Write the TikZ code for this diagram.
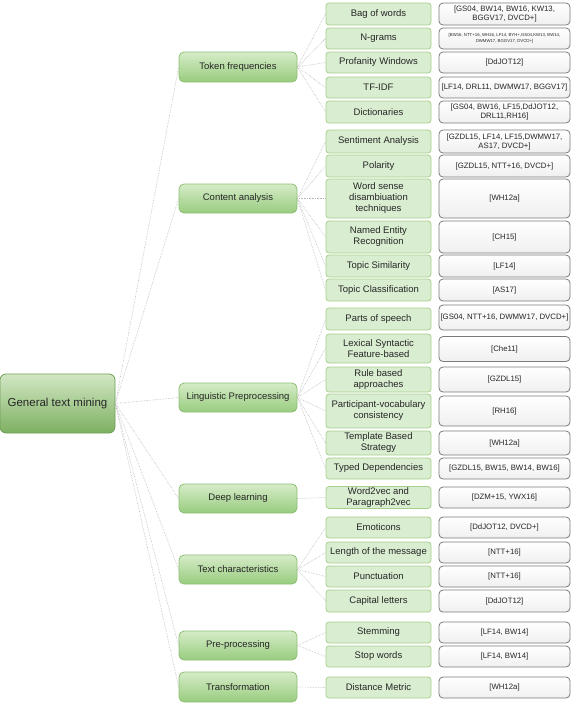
\documentclass[tikz,border=0pt]{standalone}
\usepackage{fontspec}
\setmainfont{Liberation Sans}
\usepackage{tikz}
\usetikzlibrary{positioning,calc}
\usepackage{xcolor}
\definecolor{rootTop}{HTML}{D2E7C4}
\definecolor{rootBot}{HTML}{7DB062}
\definecolor{rootLine}{HTML}{6E9E56}
\definecolor{catTop}{HTML}{D6ECC8}
\definecolor{catBot}{HTML}{98CC7E}
\definecolor{catLine}{HTML}{8DBE74}
\definecolor{subFill}{HTML}{D9EDD1}
\definecolor{subLine}{HTML}{A6D08C}
\definecolor{refLine}{HTML}{7A7A7A}
\definecolor{linkGray}{HTML}{B8B8B8}

\begin{document}
\begin{tikzpicture}[x=1pt,y=-1pt,
  every node/.style={font=\fontsize{9.5}{11}\selectfont, text=black!85, align=center, inner sep=1pt},
  root/.style={draw=rootLine, line width=0.8, rounded corners=6, top color=rootTop, bottom color=rootBot,
    minimum width=115, minimum height=59, font=\fontsize{11.5}{13}\selectfont},
  cat/.style={draw=catLine, line width=0.8, rounded corners=5, top color=catTop, bottom color=catBot,
    minimum width=118, minimum height=29},
  sub/.style={draw=subLine, line width=0.8, rounded corners=3, fill=subFill, minimum width=105},
  ref/.style={draw=refLine, line width=0.8, rounded corners=4, top color=white, bottom color=black!6,
    minimum width=131, font=\fontsize{7.8}{9}\selectfont},
  link/.style={draw=linkGray, line width=0.6, densely dotted}]
\useasboundingbox (0,0) rectangle (576,705);

% root
\node[root] (gtm) at (57.5,403.5) {General text mining};

% categories
\node[cat, minimum height=30] (tok) at (238,67) {Token frequencies};
\node[cat] (cont) at (238,198.5) {Content analysis};
\node[cat] (ling) at (238,397.5) {Linguistic Preprocessing};
\node[cat] (deep) at (238,498.5) {Deep learning};
\node[cat] (textc) at (238,569.5) {Text characteristics};
\node[cat] (pre) at (238,645.5) {Pre-processing};
\node[cat, minimum height=30] (trans) at (238,687) {Transformation};

% token frequencies
\node[sub, minimum height=22] (bow) at (378.5,14) {Bag of words};
\node[ref, minimum height=22] (bowR) at (504.5,14) {[GS04, BW14, BW16, KW13,\\BGGV17, DVCD+]};
\node[sub, minimum height=21] (ngr) at (378.5,38.5) {N-grams};
\node[ref, minimum height=21, font=\fontsize{4.3}{6.5}\selectfont] (ngrR) at (504.5,38.5) {[BW16, NTT+16, WH16, LF14, BYH+,GS04,KW13, BW14,\\DWMW17, BGGV17, DVCD+]};
\node[sub, minimum height=21] (prof) at (378.5,62.5) {Profanity Windows};
\node[ref, minimum height=21] (profR) at (504.5,62.5) {[DdJOT12]};
\node[sub, minimum height=21] (tfidf) at (378.5,87.5) {TF-IDF};
\node[ref, minimum height=21] (tfidfR) at (504.5,87.5) {[LF14, DRL11, DWMW17, BGGV17]};
\node[sub, minimum height=22] (dict) at (378.5,112) {Dictionaries};
\node[ref, minimum height=22] (dictR) at (504.5,112) {[GS04, BW16, LF15,DdJOT12,\\DRL11,RH16]};

% content analysis
\node[sub, minimum height=23] (sent) at (378.5,141.5) {Sentiment Analysis};
\node[ref, minimum height=23] (sentR) at (504.5,141.5) {[GZDL15, LF14, LF15,DWMW17,\\AS17, DVCD+]};
\node[sub, minimum height=22] (pol) at (378.5,166) {Polarity};
\node[ref, minimum height=22] (polR) at (504.5,166) {[GZDL15, NTT+16, DVCD+]};
\node[sub, minimum height=39] (wsd) at (378.5,198.5) {Word sense\\disambiuation\\techniques};
\node[ref, minimum height=39] (wsdR) at (504.5,198.5) {[WH12a]};
\node[sub, minimum height=32] (ner) at (378.5,237) {Named Entity\\Recognition};
\node[ref, minimum height=32] (nerR) at (504.5,237) {[CH15]};
\node[sub, minimum height=22] (tsim) at (378.5,266) {Topic Similarity};
\node[ref, minimum height=22] (tsimR) at (504.5,266) {[LF14]};
\node[sub, minimum height=22] (tcls) at (378.5,290) {Topic Classification};
\node[ref, minimum height=22] (tclsR) at (504.5,290) {[AS17]};

% linguistic preprocessing
\node[sub, minimum height=22] (pos) at (378.5,319) {Parts of speech};
\node[ref, minimum height=25] (posR) at (504.5,317.5) {[GS04, NTT+16, DWMW17, DVCD+]};
\node[sub, minimum height=29] (lex) at (378.5,348.5) {Lexical Syntactic\\Feature-based};
\node[ref, minimum height=25] (lexR) at (504.5,349) {[Che11]};
\node[sub, minimum height=25] (rule) at (378.5,379.5) {Rule based\\approaches};
\node[ref, minimum height=25] (ruleR) at (504.5,379.5) {[GZDL15]};
\node[sub, minimum height=34] (part) at (378.5,411) {Participant-vocabulary\\consistency};
\node[ref, minimum height=30] (partR) at (504.5,411) {[RH16]};
\node[sub, minimum height=24] (tmpl) at (378.5,443) {Template Based\\Strategy};
\node[ref, minimum height=24] (tmplR) at (504.5,443) {[WH12a]};
\node[sub, minimum height=21] (typed) at (378.5,468.5) {Typed Dependencies};
\node[ref, minimum height=21] (typedR) at (504.5,468.5) {[GZDL15, BW15, BW14, BW16]};

% deep learning
\node[sub, minimum height=21] (w2v) at (378.5,497.5) {Word2vec and\\Paragraph2vec};
\node[ref, minimum height=21] (w2vR) at (504.5,497.5) {[DZM+15, YWX16]};

% text characteristics
\node[sub, minimum height=21] (emo) at (378.5,527.5) {Emoticons};
\node[ref, minimum height=21] (emoR) at (504.5,527.5) {[DdJOT12, DVCD+]};
\node[sub, minimum height=21] (len) at (378.5,552.5) {Length of the message};
\node[ref, minimum height=21] (lenR) at (504.5,552.5) {[NTT+16]};
\node[sub, minimum height=21] (punc) at (378.5,576.5) {Punctuation};
\node[ref, minimum height=21] (puncR) at (504.5,576.5) {[NTT+16]};
\node[sub, minimum height=22] (cap) at (378.5,601) {Capital letters};
\node[ref, minimum height=22] (capR) at (504.5,601) {[DdJOT12]};

% pre-processing
\node[sub, minimum height=21] (stem) at (378.5,632.5) {Stemming};
\node[ref, minimum height=21] (stemR) at (504.5,632.5) {[LF14, BW14]};
\node[sub, minimum height=21] (stop) at (378.5,656.5) {Stop words};
\node[ref, minimum height=21] (stopR) at (504.5,656.5) {[LF14, BW14]};

% transformation
\node[sub, minimum height=21] (dist) at (378.5,687.5) {Distance Metric};
\node[ref, minimum height=21] (distR) at (504.5,687.5) {[WH12a]};

% links
\foreach \c in {tok,cont,ling,deep,textc,pre,trans}
  \draw[link] (gtm.east) -- (\c.west);
\foreach \s in {bow,ngr,prof,tfidf,dict}
  \draw[link] (tok.east) -- (\s.west);
\foreach \s in {sent,pol,wsd,ner,tsim,tcls}
  \draw[link] (cont.east) -- (\s.west);
\foreach \s in {pos,lex,rule,part,tmpl,typed}
  \draw[link] (ling.east) -- (\s.west);
\draw[link] (deep.east) -- (w2v.west);
\foreach \s in {emo,len,punc,cap}
  \draw[link] (textc.east) -- (\s.west);
\foreach \s in {stem,stop}
  \draw[link] (pre.east) -- (\s.west);
\draw[link] (trans.east) -- (dist.west);
\end{tikzpicture}
\end{document}
